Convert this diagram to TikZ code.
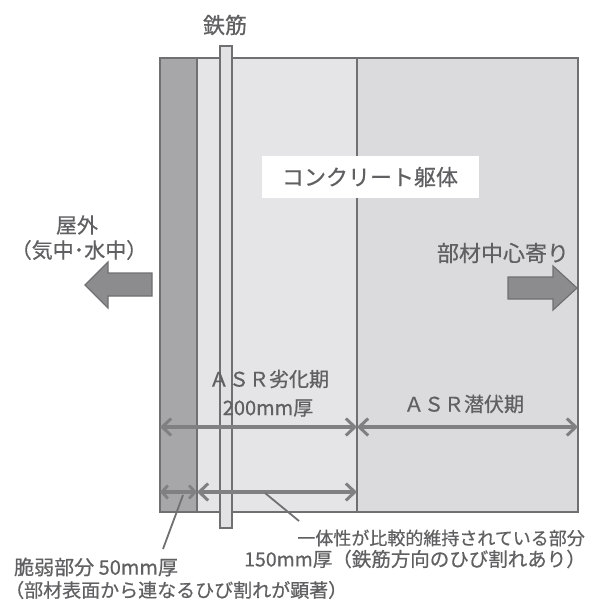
\documentclass[tikz,border=0pt]{standalone}
\usepackage{fontspec}
\setmainfont{Noto Sans CJK JP}[FakeBold=0.6]
\usetikzlibrary{arrows.meta}
\definecolor{txt}{HTML}{606062}
\definecolor{edge}{HTML}{707072}
\definecolor{weak}{HTML}{A7A7A9}
\definecolor{zoneA}{HTML}{E5E5E7}
\definecolor{zoneB}{HTML}{DBDBDD}
\definecolor{barfill}{HTML}{E2E2E4}
\definecolor{dim}{HTML}{808082}
\definecolor{bigarrow}{HTML}{8C8C8E}
\tikzset{
  lbl/.style={text=txt, inner sep=0pt, font=\fontsize{#1}{#1}\selectfont},
  lbl/.default=20,
  dimline/.style={draw=dim, line width=3.6pt, {Straight Barb[length=9pt,width=17pt,line width=3pt]}-{Straight Barb[length=9pt,width=17pt,line width=3pt]}},
  shortdim/.style={draw=dim, line width=3.4pt, {Straight Barb[length=6pt,width=13pt,line width=2.8pt]}-{Straight Barb[length=6pt,width=13pt,line width=2.8pt]}},
  pointer/.style={draw=edge, line width=1.8pt},
  zoneedge/.style={draw=edge, line width=1.3pt},
  bigarr/.style={fill=bigarrow, draw=edge, line width=1.2pt, line join=miter},
}
\begin{document}
\begin{tikzpicture}[x=1pt,y=-1pt]
\useasboundingbox (0,0) rectangle (591,601);
% zones
\fill[zoneA] (160,58) rectangle (357,512);
\fill[zoneB] (357,58) rectangle (578,512);
\fill[weak] (160,58) rectangle (197,512);
\draw[zoneedge] (197,58) -- (197,512);
\draw[zoneedge] (357,58) -- (357,512);
\draw[zoneedge] (160,58) rectangle (578,512);
% rebar
\draw[zoneedge, fill=barfill] (220,46) rectangle (232,528);
% labels top
\node[lbl=22] (rebar) at (225,25) {鉄筋};
\node[lbl=22, fill=white, minimum width=217pt, minimum height=42pt] (body) at (370,177) {コンクリート躯体};
\node[lbl=21] (out1) at (77,225) {屋外};
\node[lbl=21] (out2) at (79,250) {（気中･水中）};
\node[lbl=22] (center) at (503,253) {部材中心寄り};
% big arrows
\draw[bigarr] (152,273) -- (108,273) -- (108,262) -- (85,285) -- (108,308) -- (108,296) -- (152,296) -- cycle;
\draw[bigarr] (508,277) -- (553,277) -- (553,266) -- (577,288) -- (553,310) -- (553,299) -- (508,299) -- cycle;
% ASR labels
\node[lbl=20] (asr1) at (269,379) {ＡＳＲ劣化期};
\node[lbl=20] (asr1b) at (268,408) {200mm厚};
\node[lbl=20] (asr2) at (464,404) {ＡＳＲ潜伏期};
% dimension coordinates
\coordinate (a0) at (160,427);
\coordinate (a1) at (357,427);
\coordinate (a2) at (578,427);
\coordinate (b0) at (160,492);
\coordinate (b1) at (197,492);
\coordinate (b2) at (357,492);
\draw[dimline] (a0) -- (a1);
\draw[dimline] (a1) -- (a2);
\draw[shortdim] (b0) -- (b1);
\draw[dimline] (b1) -- (b2);
% pointers
\coordinate (p1s) at (183,495);
\coordinate (p1e) at (163,549);
\coordinate (p2s) at (265,493);
\coordinate (p2e) at (299,521);
\draw[pointer] (p1s) -- (p1e);
\draw[pointer] (p2s) -- (p2e);
% bottom labels
\node[lbl=18, anchor=east] (keep1) at (585,538) {一体性が比較的維持されている部分};
\node[lbl=19.5, anchor=east] (keep2) at (586,559) {150mm厚（鉄筋方向のひび割れあり）};
\node[lbl=20, anchor=west] (weak1) at (14,567) {脆弱部分 50mm厚};
\node[lbl=19, anchor=west] (weak2) at (5,590) {（部材表面から連なるひび割れが顕著）};
\end{tikzpicture}
\end{document}
